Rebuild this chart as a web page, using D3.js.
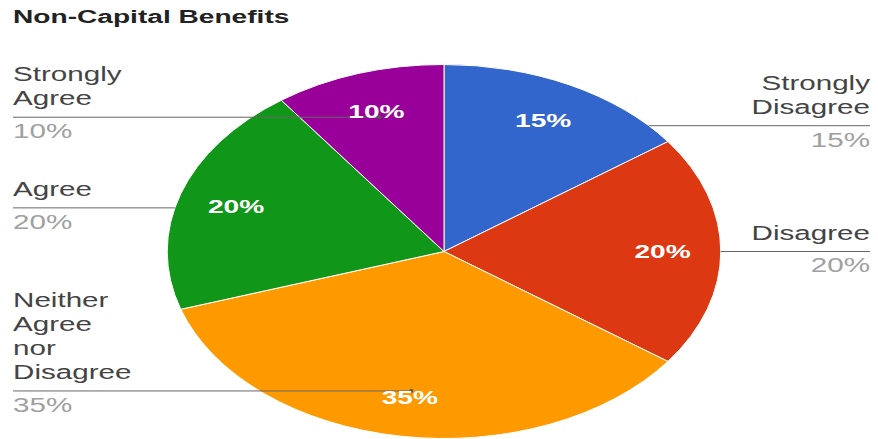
<!DOCTYPE html>
<html>
<head>
<meta charset="utf-8">
<script src="https://cdn.jsdelivr.net/npm/d3@7"></script>
<style>
  html, body { margin: 0; padding: 0; background: #fff; }
  svg { display: block; }
</style>
</head>
<body>
<script>
var categories = ['Strongly Disagree', 'Disagree', 'Neither Agree nor Disagree', 'Agree', 'Strongly Agree'];
var labelLines = [['Strongly', 'Disagree'], ['Disagree'], ['Neither', 'Agree', 'nor', 'Disagree'], ['Agree'], ['Strongly', 'Agree']];
var values = [15, 20, 35, 20, 10];
var colors = ['#3366cc', '#dc3912', '#ff9900', '#109618', '#990099'];

// the picture is stretched sideways, so draw in a narrow box and let the viewBox widen it
var S = 1.48;
var W = 878 / S, H = 439;
var cx = 300, cy = 251.5, r = 187;
var leftX = 13 / S, rightX = 870 / S;
var lineToDot = [false, false, true, false, true];

var svg = d3.select('body')
            .append('svg')
            .attr('width', 878)
            .attr('height', 439)
            .attr('viewBox', '0 0 ' + W + ' ' + H)
            .attr('preserveAspectRatio', 'none')
            .style('font-family', 'Arial, "Liberation Sans", sans-serif');

svg.append('text')
    .attr('x', leftX)
    .attr('y', 23.5)
    .attr('font-size', 19)
    .attr('font-weight', 'bold')
    .attr('fill', '#222')
    .text('Non-Capital Benefits');

var pie = d3.pie().sort(null).value(function(d){return d;});
var arcs = pie(values);
var arc = d3.arc().innerRadius(0).outerRadius(r);
var labelArc = d3.arc().innerRadius(r * 0.79).outerRadius(r * 0.79);
var anchorArc = d3.arc().innerRadius(r * 0.755).outerRadius(r * 0.755);

var g = svg.append('g').attr('transform', 'translate(' + cx + ',' + cy + ')');

g.selectAll('path')
    .data(arcs)
    .enter().append('path')
        .attr('d', arc)
        .attr('fill', function(d, i){return colors[i];})
        .attr('stroke', '#fff')
        .attr('stroke-width', 1)
        .attr('vector-effect', 'non-scaling-stroke');

// leader lines and outside labels
arcs.forEach(function(d, i){
    var a = anchorArc.centroid(d);
    var ay = a[1];
    var right = (d.startAngle + d.endAngle) / 2 < Math.PI;
    var endX;
    if (lineToDot[i]) {
        endX = a[0];
    } else {
        endX = Math.sqrt(r * r - ay * ay) * (right ? 1 : -1);
    }
    var x1 = right ? endX : leftX - cx;
    var x2 = right ? rightX - cx : endX;
    g.append('line')
        .attr('x1', x1).attr('y1', ay)
        .attr('x2', x2).attr('y2', ay)
        .attr('stroke', '#666')
        .attr('stroke-width', 1)
        .attr('vector-effect', 'non-scaling-stroke');
    if (lineToDot[i]) {
        g.append('ellipse')
            .attr('cx', a[0]).attr('cy', ay)
            .attr('rx', 2 / S).attr('ry', 2)
            .attr('fill', '#555');
    }
    var tx = right ? rightX - cx : leftX - cx;
    var anchor = right ? 'end' : 'start';
    var lines = labelLines[i];
    lines.forEach(function(t, j){
        g.append('text')
            .attr('x', tx)
            .attr('y', ay - 12 - (lines.length - 1 - j) * 24)
            .attr('text-anchor', anchor)
            .attr('font-size', 20)
            .attr('fill', '#444')
            .text(t);
    });
    g.append('text')
        .attr('x', tx)
        .attr('y', ay + 21)
        .attr('text-anchor', anchor)
        .attr('font-size', 20)
        .attr('fill', '#a0a0a0')
        .text(values[i] + '%');
});

g.selectAll('text.pct')
    .data(arcs)
    .enter().append('text')
        .attr('class', 'pct')
        .attr('x', function(d){return labelArc.centroid(d)[0];})
        .attr('y', function(d){return labelArc.centroid(d)[1];})
        .attr('dy', '0.35em')
        .attr('text-anchor', 'middle')
        .attr('font-size', 19)
        .attr('font-weight', 'bold')
        .attr('fill', '#fff')
        .text(function(d){return d.data + '%';});
</script>
</body>
</html>
